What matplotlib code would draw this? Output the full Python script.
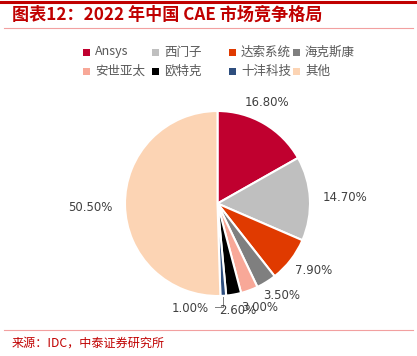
import matplotlib
matplotlib.use("Agg")
import matplotlib.pyplot as plt
from matplotlib.patches import Rectangle
import numpy as np

plt.rcParams['font.family'] = ['Noto Sans CJK SC', 'DejaVu Sans']

categories = ['Ansys', '西门子', '达索系统', '海克斯康', '安世亚太', '欧特克', '十沣科技', '其他']
shares = [16.8, 14.7, 7.9, 3.5, 3.0, 2.6, 1.0, 50.5]
colors = ['#C0002F', '#BFBFBF', '#E03A00', '#7F7F7F', '#F8A898', '#000000', '#2E4E7E', '#FCD4B4']

# label layout (radius in pie radii, angular nudge in degrees)
label_radius = [1.22, 1.38, 1.26, 1.21, 1.21, 1.18, None, 1.38]
label_shift = [4.0, -0.5, 2.8, 3.3, 1.7, 0.7, 0.0, 0.7]

W, H = 417, 356
fig = plt.figure(figsize=(W / 100, H / 100), dpi=100)

# pie axes: center at (217.5, 203.5) px from top, radius 92.5 px
CX, CY, R = 217.5, 203.5, 92.5
half = 150
ax = fig.add_axes([(CX - half) / W, (H - CY - half) / H, 2 * half / W, 2 * half / H])
lim = half / R

wedges, _ = ax.pie(shares, colors=colors, startangle=90, counterclock=False,
                   radius=1.0, wedgeprops=dict(edgecolor='white', linewidth=1.5),
                   frame=True)
ax.set_xlim(-lim, lim)
ax.set_ylim(-lim, lim)
ax.set_aspect('equal')
ax.axis('off')

cum = np.cumsum([0] + shares)
for i, v in enumerate(shares):
    mid = (cum[i] + cum[i + 1]) / 2.0
    ang = np.deg2rad(90 - mid / 100.0 * 360 + label_shift[i])
    txt = f"{v:.2f}%"
    if label_radius[i] is None:
        x0, y0 = np.cos(ang) * 1.0, np.sin(ang) * 1.0
        ax.plot([x0, x0, x0 - 0.09], [y0 - 0.01, y0 - 0.12, y0 - 0.12], color='#7F7F7F', lw=0.7)
        ax.text(x0 - 0.16, y0 - 0.14, txt, ha='right', va='center', fontsize=8.5,
                color='#404040', family='DejaVu Sans')
    else:
        r = label_radius[i]
        ax.text(np.cos(ang) * r, np.sin(ang) * r, txt, ha='center', va='center',
                fontsize=8.5, color='#404040', family='DejaVu Sans')

# legend (manual, row-major, 4 columns)
legend_x = [86, 155, 232, 296]
legend_y = [52, 71]
for i, (name, c) in enumerate(zip(categories, colors)):
    row, col = divmod(i, 4)
    x = legend_x[col]
    y = legend_y[row]
    fig.add_artist(Rectangle(((x - 3.5) / W, 1 - (y + 3.5) / H), 7 / W, 7 / H,
                             facecolor=c, edgecolor='none', transform=fig.transFigure))
    fig.text((x + 9) / W, 1 - y / H, name, color='#595959', fontsize=9,
             ha='left', va='center')

# header lines and title
fig.add_artist(plt.Line2D([0, 1], [1 - 1.5 / H, 1 - 1.5 / H], color='#C00000', lw=2.2))
fig.add_artist(plt.Line2D([0.01, 0.99], [1 - 28 / H, 1 - 28 / H], color='#F2A0A0', lw=0.8))
fig.text(12 / W, 1 - 15 / H, '图表12：2022 年中国 CAE 市场竞争格局', color='#C00000',
         fontsize=12.3, fontweight='bold', style='italic', ha='left', va='center')

# footer
fig.add_artist(plt.Line2D([0.01, 0.99], [1 - 330 / H, 1 - 330 / H], color='#F2A0A0', lw=0.8))
fig.text(12 / W, 1 - 343 / H, '来源：IDC，中泰证券研究所', color='#C00000',
         fontsize=8.7, ha='left', va='center')

fig.savefig('out.png', dpi=100)
